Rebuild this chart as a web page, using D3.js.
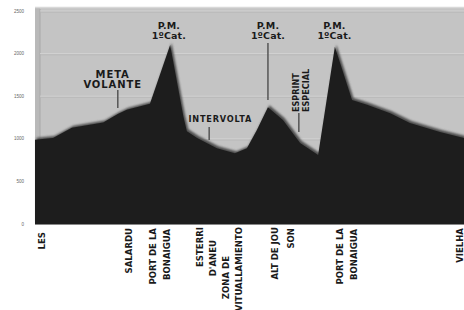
<!DOCTYPE html>
<html><head><meta charset="utf-8">
<script src="https://cdn.jsdelivr.net/npm/d3@7"></script>
<style>body{margin:0;background:#fff;overflow:hidden}</style>
</head><body>
<svg id="c" width="464" height="310"></svg>
<script>
// Profile data (distance km, altitude m)
const km = [0, 4.2, 8.6, 15.9, 19.3, 21.4, 26.8, 31.5, 34.6, 35.4, 37.8, 42.4, 46.6, 49.4, 51.7, 54.3, 57.8, 61.8, 66.0, 69.9, 73.9, 77.4, 82.8, 87.4, 94.4, 100];
const altitude = [990, 1010, 1130, 1190, 1290, 1340, 1410, 2100, 1260, 1090, 1010, 890, 830, 890, 1100, 1370, 1220, 950, 810, 2080, 1455, 1400, 1300, 1185, 1080, 1010];
const yTicks = [0, 500, 1000, 1500, 2000, 2500];

// Place names along the route
const placeKm = [1.6, 21.7, 29.1, 43.0, 57.8, 72.7, 99.0];
const placeLines = [["LES"], ["SALARDU"], ["PORT DE LA", "BONAIGUA"], ["ESTERRI", "D'ANEU", "ZONA DE", "AVITUALLAMIENTO"], ["ALT DE JOU", "SON"], ["PORT DE LA", "BONAIGUA"], ["VIELHA"]];

// Annotations
const noteKm = [19.5, 31.2, 43.2, 54.3, 62.0, 69.8];
const noteLines = [["META", "VOLANTE"], ["P.M.", "1ºCat."], ["INTERVOLTA"], ["P.M.", "1ºCat."], ["ESPRINT", "ESPECIAL"], ["P.M.", "1ºCat."]];

const svg = d3.select("#c");
const L = 35, R = 464, T = 7, B = 224;
const x = d3.scaleLinear().domain([0, 100]).range([L, R]);
const y = d3.scaleLinear().domain([0, 2500]).range([B, 11]);

const defs = svg.append("defs");
defs.append("filter").attr("id", "bl").attr("x", "-5%").attr("y", "-5%").attr("width", "110%").attr("height", "110%")
  .append("feGaussianBlur").attr("stdDeviation", 1.2);

// plot background
svg.append("rect").attr("x", L).attr("y", T).attr("width", R - L + 5).attr("height", B - T).attr("fill", "#c4c4c4");
svg.append("rect").attr("x", L).attr("y", T).attr("width", 5).attr("height", B - T).attr("fill", "#b9b9b9");
svg.append("line").attr("x1", L + 5).attr("x2", L + 5).attr("y1", T + 2).attr("y2", B).attr("stroke", "#a8a8a8").attr("stroke-width", 1);
svg.append("line").attr("x1", L).attr("x2", R).attr("y1", T + 0.5).attr("y2", T + 0.5).attr("stroke", "#d8d8d8").attr("stroke-width", 1.5);

// grid
svg.append("g").selectAll("line").data(yTicks.filter(d => d > 0)).join("line")
  .attr("x1", L + 5).attr("x2", R).attr("y1", d => y(d)).attr("y2", d => y(d))
  .attr("stroke", "#d2d2d2").attr("stroke-width", 1);
svg.append("g").selectAll("line").data(yTicks.filter(d => d > 0)).join("line")
  .attr("x1", L + 5).attr("x2", R).attr("y1", d => y(d) + 1.2).attr("y2", d => y(d) + 1.2)
  .attr("stroke", "#b8b8b8").attr("stroke-width", 0.8);

// y tick labels
svg.append("g").selectAll("text").data(yTicks).join("text")
  .attr("x", 24).attr("y", d => y(d) + 1.5).attr("text-anchor", "end")
  .attr("font-family", "Liberation Sans, Arial, sans-serif").attr("font-size", 4.5)
  .attr("fill", "#666").text(d => d);

// area
const area = d3.area().x((d, i) => x(km[i])).y0(B).y1(d => y(d)).curve(d3.curveLinear);
svg.append("path").datum(altitude).attr("d", area).attr("fill", "#4e4e4e")
  .attr("transform", "translate(1.5,-2)").attr("filter", "url(#bl)");
svg.append("path").datum(altitude).attr("d", area).attr("fill", "#1d1d1d");

// bottom axis line
svg.append("line").attr("x1", L).attr("x2", R).attr("y1", B + 0.5).attr("y2", B + 0.5).attr("stroke", "#888").attr("stroke-width", 1);

// place labels (rotated)
const placeFont = "'Liberation Sans Narrow', 'Arial Narrow', 'DejaVu Sans Condensed', sans-serif";
const placeTop = [[232], [228], [228, 229], [227, 240, 256, 227], [227, 228], [228, 229], [228]];
const placeDx = [[0], [0], [-7, 7], [-20, -7, 6, 19], [-8, 8], [-7, 7], [0]];
placeLines.forEach((lines, i) => {
  lines.forEach((t, j) => {
    const cx = x(placeKm[i]) + placeDx[i][j];
    const ty = placeTop[i][j];
    svg.append("text").attr("transform", `translate(${cx + 3.5},${ty}) rotate(-90)`)
      .attr("text-anchor", "end").attr("font-family", placeFont).attr("font-weight", "bold")
      .attr("font-size", 9.5).attr("fill", "#1a1a1a").text(t);
  });
});

// annotations
const noteFont = "'DejaVu Sans', Verdana, sans-serif";
const noteSize = [10, 9.5, 8.2, 9.5, 9, 9.5];
const noteSpacing = [0.9, 0.1, 0.8, 0.1, 0, 0.1];
const noteBase = [[78, 88], [29, 38.5], [122], [29, 38.5], [0, 0], [29, 38.5]];
noteLines.forEach((lines, i) => {
  if (i === 4) {
    lines.forEach((t, j) => {
      const cx = x(noteKm[i]) - 5 + j * 10;
      svg.append("text").attr("transform", `translate(${cx + 3.5},${112}) rotate(-90)`)
        .attr("text-anchor", "start").attr("font-family", placeFont).attr("font-weight", "bold")
        .attr("font-size", 9).attr("fill", "#1a1a1a").text(t);
    });
  } else {
    lines.forEach((t, j) => {
      svg.append("text").attr("x", x(noteKm[i]) - (i === 0 ? 6 : 0)).attr("y", noteBase[i][j])
        .attr("text-anchor", "middle").attr("font-family", noteFont).attr("font-weight", "bold")
        .attr("letter-spacing", noteSpacing[i])
        .attr("font-size", noteSize[i]).attr("fill", "#1a1a1a").text(t);
    });
  }
});

// annotation pointer lines
const pointerKm = [19.3, 54.3, 40.6, 61.5];
const pointerY = [[90, 108], [43, 100], [127, 140], [113, 132]];
pointerKm.forEach((k, i) => {
  svg.append("line").attr("x1", x(k)).attr("x2", x(k)).attr("y1", pointerY[i][0]).attr("y2", pointerY[i][1])
    .attr("stroke", "#555").attr("stroke-width", 1.5);
});
</script>
</body></html>
